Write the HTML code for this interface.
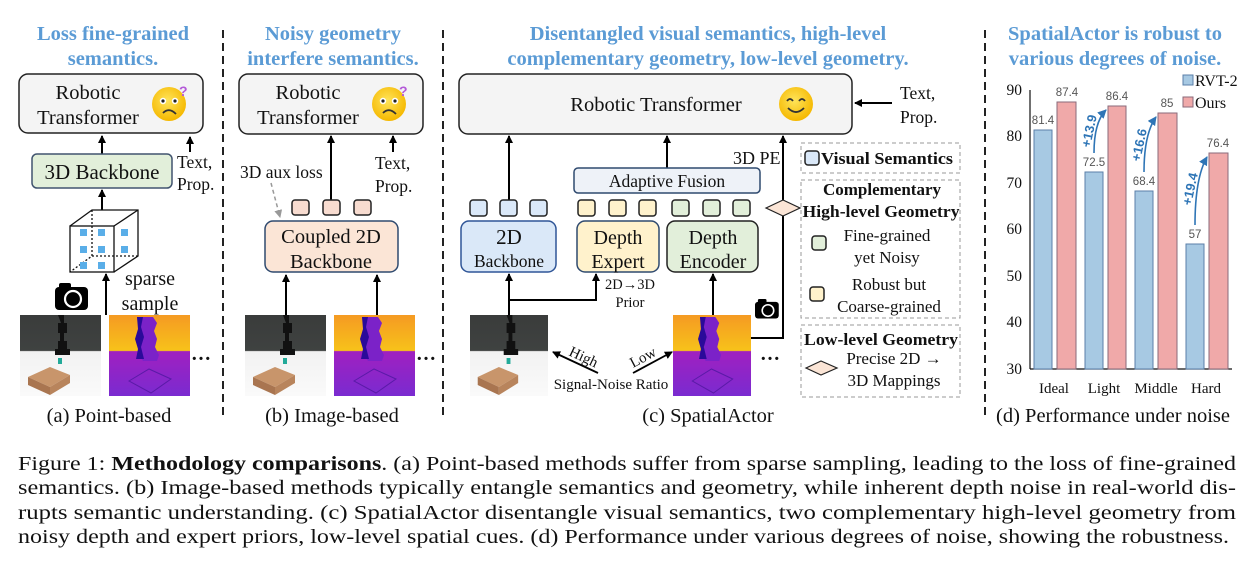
<!DOCTYPE html>
<html><head><meta charset="utf-8"><style>
html,body{margin:0;padding:0;background:#fff;}
svg{display:block;font-family:"Liberation Serif",serif;}
.t{font-family:"Liberation Serif",serif;fill:#111;}
.ti{font-family:"Liberation Serif",serif;font-weight:bold;fill:#5b9bd5;font-size:20.5px;text-anchor:middle;}
.s{font-family:"Liberation Sans",sans-serif;fill:#555;font-size:11.5px;text-anchor:middle;}
</style></head><body>
<svg width="1254" height="567" viewBox="0 0 1254 567" xmlns="http://www.w3.org/2000/svg">
<defs>
<marker id="ah" markerWidth="8" markerHeight="8" refX="7" refY="4" orient="auto" markerUnits="userSpaceOnUse"><path d="M0,0 L8,4 L0,8 z" fill="#000"/></marker>
<marker id="ag" markerWidth="8" markerHeight="8" refX="7" refY="4" orient="auto" markerUnits="userSpaceOnUse"><path d="M0,0 L8,4 L0,8 z" fill="#999"/></marker>
<marker id="ab" markerWidth="9" markerHeight="9" refX="8" refY="4.5" orient="auto" markerUnits="userSpaceOnUse"><path d="M0,0 L9,4.5 L0,9 z" fill="#2e75b6"/></marker>
<linearGradient id="dep" x1="0" y1="0" x2="0" y2="1"><stop offset="0" stop-color="#f59a23"/><stop offset="0.44" stop-color="#f7c21a"/><stop offset="0.45" stop-color="#a020c0"/><stop offset="1" stop-color="#7a2bd0"/></linearGradient>
<linearGradient id="rob" x1="0" y1="0" x2="0" y2="1"><stop offset="0" stop-color="#3a3c3b"/><stop offset="0.44" stop-color="#3f4241"/><stop offset="0.45" stop-color="#f2f2f2"/><stop offset="1" stop-color="#fafafa"/></linearGradient>
<radialGradient id="emo" cx="0.45" cy="0.4" r="0.6"><stop offset="0" stop-color="#ffe45a"/><stop offset="1" stop-color="#f5b800"/></radialGradient>
<g id="robimg">
<rect x="0" y="0" width="81" height="81" fill="url(#rob)"/>
<path d="M38,0 h6 v8 h3 v10 h-3 v8 h3 v8 h3 v6 h-15 v-6 h3 v-8 h2 v-8 h-2 v-10 h3z" fill="#111"/>
<rect x="38" y="43" width="4" height="6" fill="#2a9"/>
<path d="M8,62 L30,52 L50,60 L30,72 z" fill="#c8956b"/><path d="M8,62 L30,72 L30,80 L8,70 z" fill="#a97550"/><path d="M30,72 L50,60 L50,68 L30,80z" fill="#b8845c"/>
</g>
<g id="depimg">
<rect x="0" y="0" width="81" height="81" fill="url(#dep)"/>
<path d="M28,2 h16 l4,6 -3,8 3,8 -2,8 4,8 -2,6 h-14 l-4,-6 2,-8 -3,-8 3,-8 -3,-8z" fill="#7b22c8"/>
<path d="M28,2 h6 l-2,10 3,10 -3,10 3,12 h-8 l2,-10 -3,-10 3,-10z" fill="#2a0a9a"/>
<path d="M20,66 L40,54 L62,64 L42,78z" fill="none" stroke="#5a1aa8" stroke-width="1"/>
</g>
<g id="cam"><rect x="0" y="4" width="33" height="23" rx="4" fill="#000"/><rect x="4" y="0" width="12" height="6" rx="2" fill="#000"/><circle cx="18" cy="16" r="8" fill="#000" stroke="#fff" stroke-width="2.2"/></g>
<g id="sad"><circle r="17" fill="url(#emo)"/><circle cx="-6" cy="-3" r="3.2" fill="#fff"/><circle cx="-6" cy="-3" r="1.6" fill="#222"/><circle cx="6" cy="-3" r="3.2" fill="#fff"/><circle cx="6" cy="-3" r="1.6" fill="#222"/><path d="M-6,9 Q0,3 7,10" stroke="#333" stroke-width="1.8" fill="none"/><text x="10" y="-8" font-family="Liberation Sans" font-size="14" font-weight="bold" fill="#b45ad8">?</text></g>
</defs>

<line x1="223" y1="30" x2="223" y2="420" stroke="#222" stroke-width="2" stroke-dasharray="8,5"/>
<line x1="443" y1="30" x2="443" y2="420" stroke="#222" stroke-width="2" stroke-dasharray="8,5"/>
<line x1="985" y1="30" x2="985" y2="420" stroke="#222" stroke-width="2" stroke-dasharray="8,5"/>

<!-- Panel a -->
<text class="ti" x="113" y="40">Loss fine-grained</text>
<text class="ti" x="113" y="65">semantics.</text>
<rect x="19" y="74" width="184" height="59" rx="9" fill="#f4f4f4" stroke="#222" stroke-width="1.5"/>
<text class="t" x="88" y="99" font-size="20.5" text-anchor="middle">Robotic</text>
<text class="t" x="88" y="124" font-size="20.5" text-anchor="middle">Transformer</text>
<use href="#sad" x="169" y="104"/>
<line x1="102" y1="154" x2="102" y2="136" stroke="#000" stroke-width="2" marker-end="url(#ah)"/>
<line x1="190" y1="152" x2="190" y2="137" stroke="#000" stroke-width="2" marker-end="url(#ah)"/>
<rect x="32" y="154" width="140" height="34" rx="5" fill="#e2efda" stroke="#41546f" stroke-width="1.5"/>
<text class="t" x="102" y="179" font-size="21" text-anchor="middle">3D Backbone</text>
<text class="t" x="177" y="168" font-size="17.5">Text,</text>
<text class="t" x="177" y="190" font-size="17.5">Prop.</text>
<line x1="102" y1="210" x2="102" y2="190" stroke="#000" stroke-width="2" marker-end="url(#ah)"/>
<g stroke="#111" stroke-width="1.3" fill="none">
<rect x="70" y="226" width="44" height="46" fill="#fff"/>
<path d="M70,226 L92,210 L138,210 L138,256 L114,272 M114,226 L138,210"/>
<path d="M92,210 L92,256 L70,272 M92,256 L138,256" stroke-dasharray="2,2"/>
</g>
<g fill="#5aaee8">
<rect x="80" y="229" width="7" height="7"/><rect x="98" y="229" width="7" height="7"/><rect x="121" y="229" width="7" height="7"/>
<rect x="80" y="246" width="7" height="7"/><rect x="98" y="246" width="7" height="7"/><rect x="121" y="246" width="7" height="7"/>
<rect x="80" y="262" width="7" height="7"/><rect x="98" y="262" width="7" height="7"/>
</g>
<line x1="106" y1="315" x2="106" y2="274" stroke="#000" stroke-width="2" marker-end="url(#ah)"/>
<use href="#cam" x="55" y="283"/>
<text class="t" x="150" y="285" font-size="20" text-anchor="middle">sparse</text>
<text class="t" x="150" y="310" font-size="20" text-anchor="middle">sample</text>
<use href="#robimg" x="20" y="315"/>
<use href="#depimg" x="109" y="315"/>
<text class="t" x="201" y="360" font-size="20" font-weight="bold" text-anchor="middle">…</text>
<text class="t" x="109" y="422" font-size="20.5" text-anchor="middle">(a) Point-based</text>

<!-- Panel b -->
<text class="ti" x="333" y="40">Noisy geometry</text>
<text class="ti" x="333" y="65">interfere semantics.</text>
<rect x="239" y="74" width="184" height="60" rx="9" fill="#f4f4f4" stroke="#222" stroke-width="1.5"/>
<text class="t" x="308" y="99" font-size="20.5" text-anchor="middle">Robotic</text>
<text class="t" x="308" y="124" font-size="20.5" text-anchor="middle">Transformer</text>
<use href="#sad" x="389" y="104"/>
<line x1="331" y1="200" x2="331" y2="136" stroke="#000" stroke-width="2" marker-end="url(#ah)"/>
<line x1="393" y1="152" x2="393" y2="136" stroke="#000" stroke-width="2" marker-end="url(#ah)"/>
<text class="t" x="375" y="169" font-size="17.5">Text,</text>
<text class="t" x="375" y="192" font-size="17.5">Prop.</text>
<text class="t" x="240" y="178" font-size="17.5">3D aux loss</text>
<line x1="271" y1="183" x2="280" y2="217" stroke="#999" stroke-width="1.5" stroke-dasharray="4,3" marker-end="url(#ag)"/>
<g fill="#f8dcd0" stroke="#222" stroke-width="1.5">
<rect x="292" y="200" width="17" height="15" rx="3"/><rect x="323" y="200" width="17" height="15" rx="3"/><rect x="354" y="200" width="17" height="15" rx="3"/>
</g>
<rect x="265" y="221" width="133" height="51" rx="8" fill="#fbe5d6" stroke="#2f4a6f" stroke-width="1.5"/>
<text class="t" x="331" y="243" font-size="20.5" text-anchor="middle">Coupled 2D</text>
<text class="t" x="331" y="268" font-size="20.5" text-anchor="middle">Backbone</text>
<line x1="286" y1="315" x2="286" y2="275" stroke="#000" stroke-width="2" marker-end="url(#ah)"/>
<line x1="377" y1="315" x2="377" y2="275" stroke="#000" stroke-width="2" marker-end="url(#ah)"/>
<use href="#robimg" x="245" y="315"/>
<use href="#depimg" x="334" y="315"/>
<text class="t" x="426" y="360" font-size="20" font-weight="bold" text-anchor="middle">…</text>
<text class="t" x="332" y="422" font-size="20.5" text-anchor="middle">(b) Image-based</text>

<!-- Panel c -->
<text class="ti" x="708" y="40">Disentangled visual semantics, high-level</text>
<text class="ti" x="708" y="65">complementary geometry, low-level geometry.</text>
<rect x="459" y="74" width="393" height="60" rx="9" fill="#f4f4f4" stroke="#222" stroke-width="1.5"/>
<text class="t" x="656" y="111" font-size="20.5" text-anchor="middle">Robotic Transformer</text>
<g transform="translate(796,104)"><circle r="17" fill="url(#emo)"/><path d="M-9,-3 Q-6,-7 -3,-3 M3,-3 Q6,-7 9,-3" stroke="#333" stroke-width="1.8" fill="none"/><path d="M-8,4 Q0,12 8,4" stroke="#333" stroke-width="1.8" fill="none"/></g>
<line x1="892" y1="103" x2="855" y2="103" stroke="#000" stroke-width="2" marker-end="url(#ah)"/>
<text class="t" x="900" y="99" font-size="17.5">Text,</text>
<text class="t" x="900" y="123" font-size="17.5">Prop.</text>
<line x1="509" y1="200" x2="509" y2="136" stroke="#000" stroke-width="2" marker-end="url(#ah)"/>
<line x1="667" y1="168" x2="667" y2="136" stroke="#000" stroke-width="2" marker-end="url(#ah)"/>
<path d="M751,338 H783 V136" stroke="#000" stroke-width="2" fill="none" marker-end="url(#ah)"/>
<text class="t" x="733" y="164" font-size="18">3D PE</text>
<rect x="574" y="168" width="186" height="25" rx="4" fill="#eef2f8" stroke="#2f4a6f" stroke-width="1.5"/>
<text class="t" x="667" y="187" font-size="17.5" text-anchor="middle">Adaptive Fusion</text>
<g stroke="#222" stroke-width="1.5">
<rect x="470" y="200" width="17" height="16" rx="3" fill="#dae8f8"/><rect x="500" y="200" width="17" height="16" rx="3" fill="#dae8f8"/><rect x="530" y="200" width="17" height="16" rx="3" fill="#dae8f8"/>
<rect x="578" y="200" width="17" height="16" rx="3" fill="#fff2cc"/><rect x="609" y="200" width="17" height="16" rx="3" fill="#fff2cc"/><rect x="639" y="200" width="17" height="16" rx="3" fill="#fff2cc"/>
<rect x="672" y="200" width="17" height="16" rx="3" fill="#e2efda"/><rect x="703" y="200" width="17" height="16" rx="3" fill="#e2efda"/><rect x="733" y="200" width="17" height="16" rx="3" fill="#e2efda"/>
</g>
<path d="M766,208 L783,200 L800,208 L783,216 z" fill="#fbe5d6" stroke="#222" stroke-width="1.2"/>
<rect x="461" y="221" width="95" height="51" rx="8" fill="#dae8f8" stroke="#2f5597" stroke-width="1.5"/>
<text class="t" x="509" y="244" font-size="21" text-anchor="middle">2D</text>
<text class="t" x="509" y="267" font-size="17.5" text-anchor="middle">Backbone</text>
<rect x="577" y="221" width="82" height="51" rx="8" fill="#fff2cc" stroke="#2f4a6f" stroke-width="1.5"/>
<text class="t" x="618" y="244" font-size="20" text-anchor="middle">Depth</text>
<text class="t" x="618" y="268" font-size="20" text-anchor="middle">Expert</text>
<rect x="667" y="221" width="91" height="51" rx="8" fill="#e2efda" stroke="#222" stroke-width="1.5"/>
<text class="t" x="713" y="244" font-size="20" text-anchor="middle">Depth</text>
<text class="t" x="713" y="268" font-size="20" text-anchor="middle">Encoder</text>
<line x1="509" y1="315" x2="509" y2="274" stroke="#000" stroke-width="2" marker-end="url(#ah)"/>
<path d="M509,300 H596 V274" stroke="#000" stroke-width="2" fill="none" marker-end="url(#ah)"/>
<line x1="713" y1="315" x2="713" y2="274" stroke="#000" stroke-width="2" marker-end="url(#ah)"/>
<text class="t" x="630" y="289" font-size="14.5" text-anchor="middle">2D→3D</text>
<text class="t" x="630" y="307" font-size="14.5" text-anchor="middle">Prior</text>
<use href="#robimg" transform="translate(470,315) scale(0.963,1)"/>
<use href="#depimg" transform="translate(673,315) scale(0.963,1)"/>
<use href="#cam" transform="translate(755,299) scale(0.72)"/>
<text class="t" x="770" y="360" font-size="20" font-weight="bold" text-anchor="middle">…</text>
<line x1="598" y1="373" x2="553" y2="352" stroke="#000" stroke-width="1.8" marker-end="url(#ah)"/>
<text class="t" x="568" y="355" font-size="15" transform="rotate(25 568 355)">High</text>
<line x1="633" y1="373" x2="672" y2="352" stroke="#000" stroke-width="1.8" marker-end="url(#ah)"/>
<text class="t" x="633" y="368" font-size="15" transform="rotate(-28 633 368)">Low</text>
<text class="t" x="611" y="389" font-size="15" text-anchor="middle">Signal-Noise Ratio</text>
<text class="t" x="708" y="422" font-size="20.5" text-anchor="middle">(c) SpatialActor</text>

<!-- legend -->
<g fill="none" stroke="#999" stroke-width="1" stroke-dasharray="4,3">
<rect x="801" y="143" width="159" height="30"/>
<rect x="801" y="180" width="159" height="138"/>
<rect x="801" y="325" width="159" height="72"/>
</g>
<rect x="805" y="151" width="14" height="14" rx="3" fill="#dae8f8" stroke="#222" stroke-width="1.5"/>
<text class="t" x="821" y="164" font-size="17" font-weight="bold" textLength="132" lengthAdjust="spacingAndGlyphs">Visual Semantics</text>
<text class="t" x="882" y="195" font-size="17" font-weight="bold" text-anchor="middle">Complementary</text>
<text class="t" x="881" y="217" font-size="17" font-weight="bold" text-anchor="middle" textLength="157" lengthAdjust="spacingAndGlyphs">High-level Geometry</text>
<rect x="812" y="236" width="14" height="14" rx="3" fill="#e2efda" stroke="#222" stroke-width="1.5"/>
<text class="t" x="887" y="241" font-size="17" text-anchor="middle">Fine-grained</text>
<text class="t" x="887" y="263" font-size="17" text-anchor="middle">yet Noisy</text>
<rect x="810" y="287" width="14" height="14" rx="3" fill="#fff2cc" stroke="#222" stroke-width="1.5"/>
<text class="t" x="889" y="290" font-size="17" text-anchor="middle">Robust but</text>
<text class="t" x="889" y="312" font-size="17" text-anchor="middle">Coarse-grained</text>
<text class="t" x="881" y="345" font-size="17" font-weight="bold" text-anchor="middle" textLength="154" lengthAdjust="spacingAndGlyphs">Low-level Geometry</text>
<path d="M806,368 L821,361 L837,368 L821,375 z" fill="#fbe5d6" stroke="#222" stroke-width="1.2"/>
<text class="t" x="894" y="364" font-size="17" text-anchor="middle">Precise 2D →</text>
<text class="t" x="894" y="386" font-size="17" text-anchor="middle">3D Mappings</text>

<!-- Panel d -->
<text class="ti" x="1115" y="40">SpatialActor is robust to</text>
<text class="ti" x="1115" y="65">various degrees of noise.</text>
<g class="t" font-size="15.5" text-anchor="end">
<text x="1022" y="95">90</text><text x="1022" y="141">80</text><text x="1022" y="188">70</text><text x="1022" y="234">60</text><text x="1022" y="281">50</text><text x="1022" y="327">40</text><text x="1022" y="374">30</text>
</g>
<line x1="1030" y1="90" x2="1030" y2="369" stroke="#111" stroke-width="1.2"/>
<line x1="1030" y1="369" x2="1232" y2="369" stroke="#111" stroke-width="1.2"/>
<g stroke="#5b7fa8" stroke-width="1" fill="#a7c9e3">
<rect x="1034" y="130" width="18" height="239"/>
<rect x="1085" y="172" width="18" height="197"/>
<rect x="1135" y="191" width="18" height="178"/>
<rect x="1186" y="244" width="18" height="125"/>
</g>
<g stroke="#8a6a7a" stroke-width="1" fill="#f0a9a9">
<rect x="1057" y="102" width="19" height="267"/>
<rect x="1108" y="106" width="18" height="263"/>
<rect x="1158" y="113" width="19" height="256"/>
<rect x="1209" y="153" width="19" height="216"/>
</g>
<g class="s">
<text x="1043" y="124">81.4</text><text x="1067" y="96">87.4</text>
<text x="1094" y="166">72.5</text><text x="1117" y="100">86.4</text>
<text x="1144" y="185">68.4</text><text x="1167" y="107">85</text>
<text x="1195" y="238">57</text><text x="1218" y="147">76.4</text>
</g>
<g fill="none" stroke="#2e75b6" stroke-width="1.6">
<path d="M1094,153 Q1094,122 1106,110" marker-end="url(#ab)"/>
<path d="M1144,172 Q1144,134 1156,117" marker-end="url(#ab)"/>
<path d="M1195,225 Q1195,178 1207,157" marker-end="url(#ab)"/>
</g>
<g font-family="Liberation Sans,sans-serif" font-size="13" fill="#2e75b6" font-weight="bold">
<text x="1090" y="148" transform="rotate(-78 1090 148)">+13.9</text>
<text x="1140" y="162" transform="rotate(-78 1140 162)">+16.6</text>
<text x="1191" y="206" transform="rotate(-78 1191 206)">+19.4</text>
</g>
<rect x="1183" y="75" width="10" height="10" fill="#a7c9e3" stroke="#5b7fa8"/>
<text class="t" x="1195" y="86" font-size="16">RVT-2</text>
<rect x="1183" y="97" width="10" height="10" fill="#f0a9a9" stroke="#8a6a7a"/>
<text class="t" x="1195" y="108" font-size="16">Ours</text>
<g class="t" font-size="15" text-anchor="middle">
<text x="1054" y="393">Ideal</text><text x="1104" y="393">Light</text><text x="1156" y="393">Middle</text><text x="1206" y="393">Hard</text>
</g>
<text class="t" x="1113" y="422" font-size="20.5" text-anchor="middle">(d) Performance under noise</text>

<!-- caption -->
<g class="t" font-size="20">
<text x="18" y="470" textLength="1218" lengthAdjust="spacingAndGlyphs">Figure 1: <tspan font-weight="bold">Methodology comparisons</tspan>. (a) Point-based methods suffer from sparse sampling, leading to the loss of fine-grained</text>
<text x="18" y="494" textLength="1218" lengthAdjust="spacingAndGlyphs">semantics. (b) Image-based methods typically entangle semantics and geometry, while inherent depth noise in real-world dis-</text>
<text x="18" y="519" textLength="1218" lengthAdjust="spacingAndGlyphs">rupts semantic understanding. (c) SpatialActor disentangle visual semantics, two complementary high-level geometry from</text>
<text x="18" y="543" textLength="1211" lengthAdjust="spacingAndGlyphs">noisy depth and expert priors, low-level spatial cues. (d) Performance under various degrees of noise, showing the robustness.</text>
</g>
</svg>
</body></html>
